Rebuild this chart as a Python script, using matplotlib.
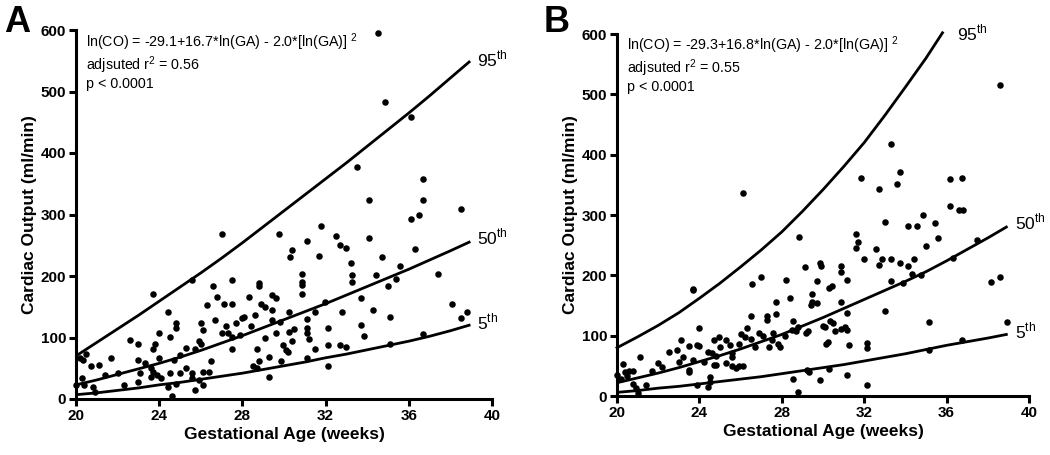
import matplotlib
matplotlib.use("Agg")
import matplotlib.pyplot as plt
import numpy as np

plt.rcParams['font.family'] = ['Liberation Sans', 'DejaVu Sans']
plt.rcParams['mathtext.fontset'] = 'custom'
plt.rcParams['mathtext.rm'] = 'Liberation Sans'

# ---------------- Panel A data ----------------
a_ga = [20.0, 20.3, 20.2, 20.35, 20.5, 20.7, 20.4, 20.8, 20.9, 21.1, 21.4, 21.7, 22.0, 22.3, 22.6,
        23.0, 23.0, 23.0, 23.1, 23.3, 23.6, 23.7, 23.6, 23.7, 23.8, 24.0, 23.7, 23.9, 24.0, 24.1,
        24.4, 24.4, 24.5, 24.5, 24.6, 24.7, 24.8, 24.8, 25.0, 25.0, 24.8, 25.3, 25.3, 25.6, 25.6,
        25.6, 25.7, 25.7, 25.9, 26.0, 25.9, 26.0, 26.1, 26.1, 26.1, 26.3, 26.4, 26.5, 26.6, 26.7,
        26.8, 27.0, 27.1, 27.2, 27.3, 27.5, 27.5, 27.5, 27.5, 27.7, 27.9, 28.0, 28.1, 28.3, 28.4,
        28.5, 28.6, 28.7, 28.7, 28.8, 28.8, 28.9, 28.8, 29.1, 29.1, 29.3, 29.3, 29.4, 29.4, 29.4,
        29.6, 29.6,
        27.0, 29.76, 34.5, 34.86, 36.1, 33.5, 36.7, 34.1, 36.7, 38.5, 36.1, 36.5, 31.8, 30.4, 31.1,
        32.5, 32.7, 33.0, 34.1, 36.3, 30.3, 31.7, 34.7,
        33.2, 33.25, 33.25, 35.6, 34.4, 35.4, 35.0, 37.4, 30.85, 30.85, 30.85, 30.85, 29.8, 30.25,
        31.97, 31.5, 33.7, 32.8, 34.3, 31.1, 30.25, 30.5, 31.1, 31.1, 31.2, 30.4, 29.97, 30.1, 30.2,
        32.1, 33.7, 33.85, 31.5, 32.1, 32.7, 33.0, 35.1, 31.1, 29.84, 32.1, 35.1, 36.7, 38.1, 38.5,
        38.8]
a_co = [23, 34, 66, 63, 73, 54, 23, 20, 12, 55, 39, 66, 43, 22, 96,
        90, 63, 28, 43, 58, 50, 171, 36, 82, 90, 107, 44, 39, 66, 34,
        20, 142, 101, 42, 5, 63, 123, 115, 72, 42, 25, 83, 50, 193, 42,
        34, 15, 82, 95, 90, 31, 123, 112, 23, 44, 153, 44, 61, 183, 128,
        166, 107, 155, 118, 107, 101, 193, 155, 82, 123, 104, 131, 134, 166, 118,
        53, 137, 50, 82, 188, 183, 155, 61, 150, 99, 69, 36, 169, 145, 128,
        164, 107,
        269, 268, 595, 483, 458, 378, 357, 324, 324, 309, 293, 299, 282, 243, 257,
        265, 250, 246, 262, 244, 231, 233, 231,
        221, 202, 190, 216, 202, 195, 184, 203, 204, 191, 185, 171, 126, 142,
        158, 142, 164, 142, 145, 130, 109, 114, 115, 107, 97, 95, 88, 80, 77,
        116, 120, 103, 82, 88, 88, 84, 134, 66, 62, 54, 90, 106, 154, 131,
        141]

a_curve_ga = [20, 21, 22, 23, 24, 25, 26, 27, 28, 29, 30, 31, 32, 33, 34, 35, 36, 37, 38, 38.9]
a_p95 = [70, 92, 114, 136, 159, 182, 205, 229, 254, 280, 306, 332, 358, 384, 411, 438, 465, 493, 522, 548]
a_p50 = [23, 31, 40, 49, 58, 68, 79, 91, 103, 116, 129, 142, 155, 169, 183, 197, 211, 226, 241, 255]
a_p05 = [7, 10, 14, 18, 23, 27, 32, 37, 42, 48, 54, 60, 67, 73, 80, 87, 94, 102, 111, 120]

# ---------------- Panel B data ----------------
b_ga = [20.0, 20.2, 20.3, 20.4, 20.5, 20.6, 20.8, 20.8, 20.9, 21.0, 21.1, 21.4, 21.7, 22.0, 22.2,
        22.5, 22.9, 23.0, 23.1, 23.2, 23.5, 23.5, 23.5, 23.7, 23.7, 23.7, 23.9, 23.9, 24.0, 24.0,
        24.2, 24.4, 24.4, 24.5, 24.5, 24.6, 24.7, 24.7, 24.8, 24.8, 24.97, 25.0, 25.3, 25.3, 25.5,
        25.6, 25.6, 25.6, 25.8, 25.9, 25.9, 26.1, 26.0, 26.2, 26.3, 26.5, 26.57, 26.5, 26.7, 26.9,
        27.0, 27.07, 27.3, 27.3, 27.4, 27.5, 27.55, 27.7, 27.7, 27.8, 27.9, 28.16, 28.2, 28.4, 28.56,
        28.56, 28.5, 28.7, 28.8, 28.8,
        26.13, 28.85, 33.3, 31.84, 33.74, 33.61, 32.72, 36.17, 36.73, 36.17, 36.62, 36.78, 34.87,
        33.01, 34.14, 34.58, 35.44, 35.6, 35.0, 37.46, 31.59, 31.7, 31.59, 32.57, 31.99, 32.85,
        33.3, 34.43, 36.33, 38.6,
        29.13, 29.86, 29.89, 30.86, 30.86, 32.74, 33.74, 34.14, 34.3, 34.74, 33.87, 33.3, 38.16,
        38.59, 38.92, 35.16, 36.73, 35.16, 33.01, 29.72, 30.31, 30.42, 31.15, 29.45, 29.45, 29.69,
        29.4, 30.86, 31.15, 29.17, 29.29, 29.98, 30.1, 30.34, 30.47, 30.58, 30.86, 31.07, 31.18,
        30.15, 30.26, 31.28, 32.12, 32.12, 32.15, 31.15, 30.31, 29.21, 29.34, 29.86]
b_co = [34, 29, 53, 40, 33, 42, 41, 20, 13, 5, 65, 18, 42, 55, 48,
        73, 76, 57, 93, 64, 83, 43, 39, 177, 175, 59, 85, 19, 83, 113,
        57, 73, 15, 32, 24, 72, 51, 92, 66, 51, 97, 81, 92, 55, 85,
        71, 65, 50, 46, 86, 50, 50, 103, 97, 112, 132, 186, 94, 82, 105,
        197, 100, 126, 132, 81, 92, 104, 136, 155, 86, 82, 100, 192, 162, 28,
        125, 109, 108, 7, 114,
        337, 263, 417, 362, 372, 352, 343, 359, 362, 315, 308, 308, 300,
        288, 282, 282, 286, 262, 249, 259, 269, 256, 245, 243, 227, 227,
        227, 227, 228, 516,
        213, 220, 216, 216, 206, 217, 220, 216, 202, 201, 188, 191, 189,
        198, 122, 122, 93, 77, 141, 190, 179, 182, 193, 169, 155, 154,
        151, 155, 137, 105, 107, 116, 114, 125, 121, 107, 111, 115, 109,
        86, 90, 85, 88, 80, 18, 35, 44, 43, 40, 26]

b_p95_ga = [20, 21, 22, 23, 24, 25, 26, 27, 28, 29, 30, 31, 32, 33, 34, 35, 35.8]
b_p95 = [80, 98, 117, 138, 162, 187, 214, 242, 272, 306, 342, 380, 420, 465, 512, 560, 602]
b_curve_ga = [20, 21, 22, 23, 24, 25, 26, 27, 28, 29, 30, 31, 32, 33, 34, 35, 36, 37, 38, 38.9]
b_p50 = [22, 30, 38, 47, 57, 67, 78, 90, 102, 116, 130, 145, 160, 175, 190, 206, 224, 243, 262, 280]
b_p05 = [6, 9, 13, 16, 20, 24, 28, 32, 37, 42, 47, 52, 58, 64, 70, 77, 84, 90, 96, 102]

xticks = [20, 24, 28, 32, 36, 40]
yticks = [0, 100, 200, 300, 400, 500, 600]

W, H = 1050, 455
fig = plt.figure(figsize=(W / 100, H / 100), dpi=100)


def style(ax):
    ax.set_xlim(20, 40)
    ax.set_ylim(0, 600)
    ax.set_xticks(xticks)
    ax.set_yticks(yticks)
    for s in ['top', 'right']:
        ax.spines[s].set_visible(False)
    for s in ['left', 'bottom']:
        ax.spines[s].set_linewidth(2.2)
    ax.tick_params(direction='out', length=5, width=2.2, labelsize=11, pad=2)
    for lab in ax.get_xticklabels() + ax.get_yticklabels():
        lab.set_fontweight('bold')
    ax.set_xlabel('Gestational Age (weeks)', fontsize=12.5, fontweight='bold', labelpad=3)
    ax.set_ylabel('Cardiac Output (ml/min)', fontsize=12.5, fontweight='bold', labelpad=3)


axA = fig.add_axes([76 / W, 1 - 399 / H, 416 / W, 369 / H])
axB = fig.add_axes([617 / W, 1 - 396 / H, 412 / W, 362 / H])

for ax in (axA, axB):
    style(ax)

axA.scatter(a_ga, a_co, s=22, color='black', clip_on=False, zorder=3, linewidths=0)
axA.plot(a_curve_ga, a_p95, color='black', lw=2)
axA.plot(a_curve_ga, a_p50, color='black', lw=2)
axA.plot(a_curve_ga, a_p05, color='black', lw=2)

axB.scatter(b_ga, b_co, s=22, color='black', clip_on=False, zorder=3, linewidths=0)
axB.plot(b_p95_ga, b_p95, color='black', lw=2, clip_on=False)
axB.plot(b_curve_ga, b_p50, color='black', lw=2)
axB.plot(b_curve_ga, b_p05, color='black', lw=2)

lab_fs = 12.5
axA.text(39.3, a_p95[-1] + 5, r'95$^{\mathrm{th}}$', fontsize=lab_fs, va='center', ha='left')
axA.text(39.3, a_p50[-1] + 8, r'50$^{\mathrm{th}}$', fontsize=lab_fs, va='center', ha='left')
axA.text(39.3, a_p05[-1] + 5, r'5$^{\mathrm{th}}$', fontsize=lab_fs, va='center', ha='left')
axB.text(36.5, 602, r'95$^{\mathrm{th}}$', fontsize=lab_fs, va='center', ha='left')
axB.text(39.3, b_p50[-1] + 8, r'50$^{\mathrm{th}}$', fontsize=lab_fs, va='center', ha='left')
axB.text(39.3, b_p05[-1] + 5, r'5$^{\mathrm{th}}$', fontsize=lab_fs, va='center', ha='left')

eqA = 'ln(CO) = -29.1+16.7*ln(GA) - 2.0*[ln(GA)] $^{2}$\nadjsuted r$^{2}$ = 0.56\np < 0.0001'
eqB = 'ln(CO) = -29.3+16.8*ln(GA) - 2.0*[ln(GA)] $^{2}$\nadjsuted r$^{2}$ = 0.55\np < 0.0001'
fig.text(86 / W, 1 - 31 / H, eqA, fontsize=10.3, va='top', ha='left', linespacing=1.12)
fig.text(627 / W, 1 - 34 / H, eqB, fontsize=10.3, va='top', ha='left', linespacing=1.12)

fig.text(4 / W, 1 - 32 / H, 'A', fontsize=26, fontweight='heavy', va='baseline', ha='left')
fig.text(544 / W, 1 - 32 / H, 'B', fontsize=26, fontweight='heavy', va='baseline', ha='left')

fig.savefig('out.png', dpi=100)
